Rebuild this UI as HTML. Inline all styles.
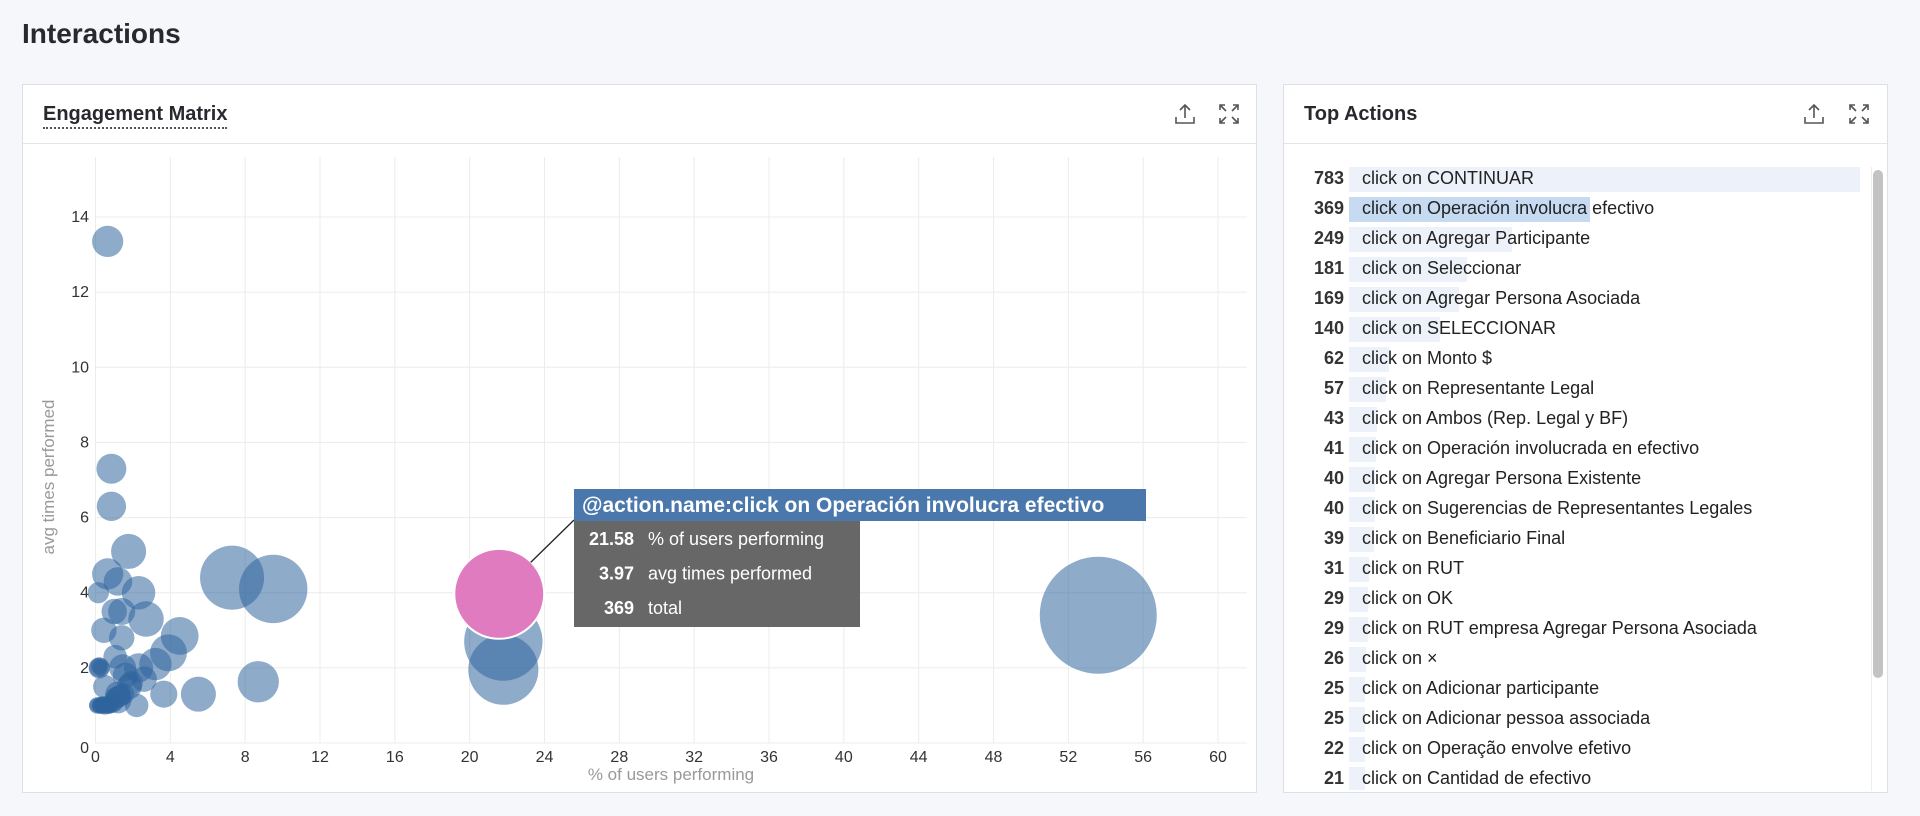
<!DOCTYPE html>
<html><head><meta charset="utf-8">
<style>
*{box-sizing:border-box;margin:0;padding:0}
body{width:1920px;height:816px;background:#f6f7fa;font-family:"Liberation Sans",sans-serif;position:relative;overflow:hidden;color:#222}
.title{position:absolute;left:22px;top:18px;font-size:28px;font-weight:bold;color:#28292e}
.panel{position:absolute;background:#fff;border:1px solid #dde0e6}
.phead{position:absolute;left:0;right:0;top:0;height:59px;border-bottom:1px solid #e3e5ea}
.ptitle{position:absolute;left:20px;top:18px;font-size:20px;font-weight:bold;color:#28292e}
.icon{position:absolute;top:17px;width:24px;height:24px}
.row{position:absolute;left:0;height:30px;font-size:18px;color:#222}
.num{position:absolute;width:60px;left:0;text-align:right;font-weight:bold;top:3px;color:#333}
.bar{position:absolute;left:65px;top:2px;height:25px;background:#edf2fa}
.lbl{position:absolute;left:78px;top:3px;white-space:nowrap}
</style></head><body>
<div class="title">Interactions</div>

<div class="panel" style="left:22px;top:84px;width:1235px;height:709px">
  <div class="phead">
    <div class="ptitle" style="border-bottom:2px dotted #555;padding-bottom:1px">Engagement Matrix</div>
    <svg class="icon" style="left:1150px" viewBox="0 0 24 24" fill="none" stroke="#555" stroke-width="1.6"><path d="M12 3v13M7 8l5-5 5 5M3 15v6h18v-6"/></svg>
    <svg class="icon" style="left:1194px" viewBox="0 0 24 24" fill="none" stroke="#555" stroke-width="1.6"><path d="M3 8V3h5M3 3l6 6M16 3h5v5M21 3l-6 6M3 16v5h5M3 21l6-6M21 16v5h-5M21 21l-6-6"/></svg>
  </div>
</div>

<svg id="chart" style="position:absolute;left:0;top:0" width="1920" height="816"></svg>

<div class="panel" style="left:1283px;top:84px;width:605px;height:709px">
  <div class="phead">
    <div class="ptitle">Top Actions</div>
    <svg class="icon" style="left:518px" viewBox="0 0 24 24" fill="none" stroke="#555" stroke-width="1.6"><path d="M12 3v13M7 8l5-5 5 5M3 15v6h18v-6"/></svg>
    <svg class="icon" style="left:563px" viewBox="0 0 24 24" fill="none" stroke="#555" stroke-width="1.6"><path d="M3 8V3h5M3 3l6 6M16 3h5v5M21 3l-6 6M3 16v5h5M3 21l6-6M21 16v5h-5M21 21l-6-6"/></svg>
  </div>
  <div id="list" style="position:absolute;left:0;top:80px;width:580px;height:625px;overflow:hidden"></div>
  <div style="position:absolute;left:587px;top:82px;width:12px;height:624px;border-left:1px solid #eee"></div>
  <div style="position:absolute;left:589px;top:85px;width:10px;height:508px;background:#c3c3c3;border-radius:5px"></div>
</div>

<script>
const actionCounts=[783,369,249,181,169,140,62,57,43,41,40,40,39,31,29,29,26,25,25,22,21];
const actionNames=["click on CONTINUAR","click on Operación involucra efectivo","click on Agregar Participante","click on Seleccionar","click on Agregar Persona Asociada","click on SELECCIONAR","click on Monto $","click on Representante Legal","click on Ambos (Rep. Legal y BF)","click on Operación involucrada en efectivo","click on Agregar Persona Existente","click on Sugerencias de Representantes Legales","click on Beneficiario Final","click on RUT","click on OK","click on RUT empresa Agregar Persona Asociada","click on ×","click on Adicionar participante","click on Adicionar pessoa associada","click on Operação envolve efetivo","click on Cantidad de efectivo"];

const bubbleX=[0.65,0.85,0.85,1.77,7.3,9.5,21.8,21.8,53.6,8.7,5.5,4.5,3.9,2.7,2.3,0.65,1.2,1.4,1.0,1.4,0.45,3.2,2.3,1.45,1.05,0.2,0.5,1.8,2.2,3.65,1.2,1.2,0.15,0.3,0.5,0.7,0.9,0.2,1.0,0.4,0.1,0.25,0.35,0.6,0.8,1.1,0.15,0.3,0.2,1.3,1.5,0.05,0.45,0.75,2.6,1.6,1.9];
const bubbleY=[13.35,7.3,6.3,5.1,4.4,4.1,2.7,1.95,3.4,1.63,1.3,2.85,2.4,3.3,4.0,4.5,4.3,3.5,3.5,2.8,3.0,2.1,2.0,2.0,2.3,2.0,1.5,1.5,1.0,1.3,1.15,1.3,4.0,1.0,1.0,1.0,1.05,1.0,1.1,1.0,1.0,1.0,1.05,1.0,1.0,1.2,2.0,2.0,2.05,1.25,1.3,1.0,1.0,1.0,1.7,1.8,1.6];
const bubbleTotal=[18,16,15,25,140,169,249,181,783,40,25,31,29,26,22,18,14,12,10,10,10,20,15,12,8,6,8,10,8,12,12,10,6,3,4,3,4,2,5,3,3,3,2,3,2,6,4,3,3,7,6,2,2,3,10,10,8];
const hoverX=21.58, hoverY=3.97, hoverTotal=369;
const xTicks=[0,4,8,12,16,20,24,28,32,36,40,44,48,52,56,60];
const yTicks=[0,2,4,6,8,10,12,14];

const NS="http://www.w3.org/2000/svg";
const svg=document.getElementById('chart');
const X0=95.5,X1=1218,XMAX=60,Y0=743,Y14=217;
const sx=v=>X0+(X1-X0)*v/XMAX;
const sy=v=>Y0-(Y0-Y14)*v/14;
const sr=t=>5.68*Math.pow(t,0.35);
function mk(tag,attrs,parent){const e=document.createElementNS(NS,tag);for(const k in attrs)e.setAttribute(k,attrs[k]);(parent||svg).appendChild(e);return e;}

const grid=mk('g',{});


xTicks.forEach(t=>{
  const l=mk('line',{x1:sx(t),x2:sx(t),y1:157,y2:Y0,stroke:'#ececec','stroke-width':1},grid);
  
  
  const tx=mk('text',{x:sx(t),y:762,'font-size':16,fill:'#333','text-anchor':'middle'});
  tx.textContent=t;
  
  
});
yTicks.forEach(t=>{
  const l=mk('line',{x1:X0,x2:1247,y1:sy(t),y2:sy(t),stroke:'#ececec','stroke-width':1},grid);
  
  
  const tx=mk('text',{x:89,y:sy(t)+(t===0?10:5),'font-size':16,fill:'#333','text-anchor':'end'});
  tx.textContent=t;
  
  
});
const xt=mk('text',{x:671,y:780,'font-size':17,fill:'#999','text-anchor':'middle'});
xt.textContent='% of users performing';


const yt=mk('text',{x:54,y:477,'font-size':17,fill:'#999','text-anchor':'middle',transform:'rotate(-90 54 477)'});
yt.textContent='avg times performed';



const bg=mk('g',{});


bubbleX.forEach((v,i)=>{
  const c=mk('circle',{cx:sx(v),cy:sy(bubbleY[i]),r:sr(bubbleTotal[i]),fill:'rgb(46,100,157)','fill-opacity':0.54},bg);
  
  
});
const hx=sx(hoverX),hy=sy(hoverY),hr=sr(hoverTotal);
const hc=mk('circle',{cx:hx,cy:hy,r:hr,fill:'#e07bc0',stroke:'#fff','stroke-width':2});


const ll=mk('line',{x1:hx+hr*0.7,y1:hy-hr*0.7,x2:574,y2:520,stroke:'#222','stroke-width':1.3});



const tg=mk('g',{});


mk('rect',{x:574,y:489,width:572,height:32,fill:'#4a78ad'},tg);
mk('rect',{x:574,y:521,width:286,height:106,fill:'#676767'},tg);
const th=mk('text',{x:582,y:512,'font-size':21,'font-weight':'bold',fill:'#fff'},tg);
th.textContent='@action.name:click on Operación involucra efectivo';


const rowsV=[hoverX.toFixed(2),hoverY.toFixed(2),String(hoverTotal)];
const rowsL=['% of users performing','avg times performed','total'];
rowsV.forEach((v,i)=>{
  const y=545+i*34.5;
  const a=mk('text',{x:634,y:y,'font-size':18,'font-weight':'bold',fill:'#fff','text-anchor':'end'},tg);a.textContent=v;
  
  
  const b=mk('text',{x:648,y:y,'font-size':18,fill:'#fff'},tg);b.textContent=rowsL[i];
  
  
});

const list=document.getElementById('list');
const maxC=actionCounts[0], fullW=511;
actionCounts.forEach((c,i)=>{
  const r=document.createElement('div');r.className='row';r.style.top=(i*30)+'px';r.style.width='580px';
  
  
  const bar=document.createElement('div');bar.className='bar';bar.style.width=Math.max(16,fullW*c/maxC)+'px';
  if(i===1)bar.style.background='#c6daf2';
  
  
  const n=document.createElement('div');n.className='num';n.textContent=c;
  
  
  const l=document.createElement('div');l.className='lbl';l.textContent=actionNames[i];
  
  
  r.appendChild(bar);r.appendChild(n);r.appendChild(l);list.appendChild(r);
});
</script>
</body></html>
